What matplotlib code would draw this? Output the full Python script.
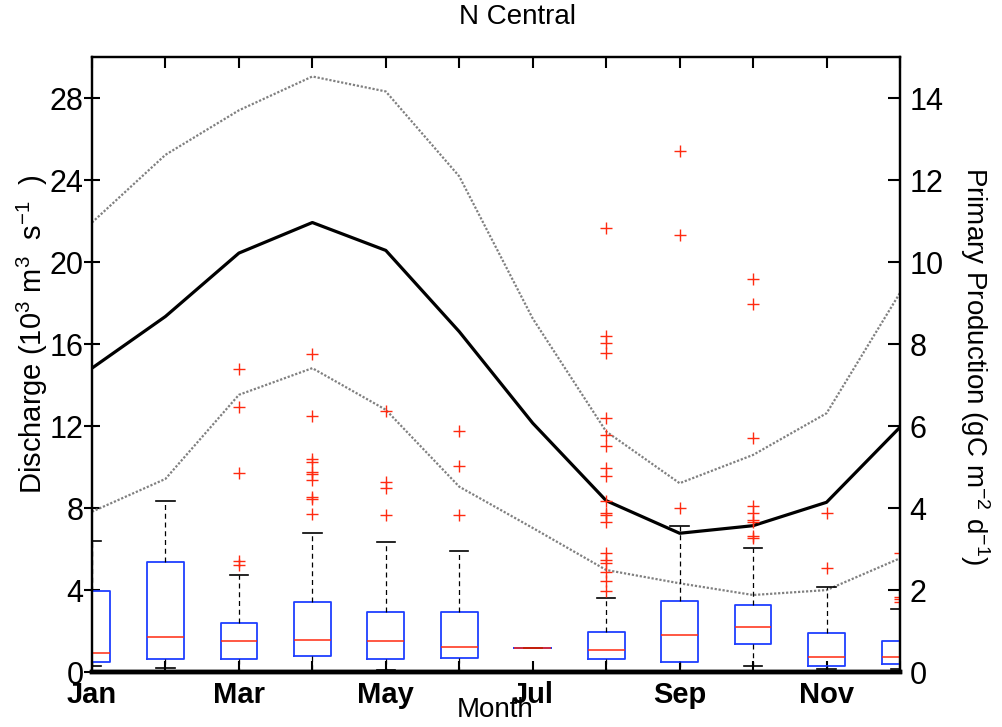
import matplotlib
matplotlib.use("Agg")
import matplotlib.pyplot as plt

plt.rcParams['font.family'] = ['Liberation Sans', 'DejaVu Sans']
plt.rcParams['mathtext.default'] = 'regular'

# ── monthly discharge (10^3 m^3 s^-1): mean and mean +/- 1 std ────────────────
months = list(range(1, 13))
month_labels = ['Jan', '', 'Mar', '', 'May', '', 'Jul', '', 'Sep', '', 'Nov', '']

q_mean  = [14.83, 17.35, 20.44, 21.93, 20.57, 16.61, 12.15, 8.37, 6.78, 7.15, 8.29, 11.95]
q_upper = [21.93, 25.23, 27.40, 29.05, 28.32, 24.18, 17.25, 11.74, 9.22, 10.60, 12.63, 18.50]
q_lower = [7.83, 9.43, 13.53, 14.83, 12.80, 9.05, 7.04, 4.99, 4.34, 3.77, 4.01, 5.56]

# ── primary production (gC m^-2 d^-1) box statistics per month ───────────────
pp_whislo = [0.16, 0.11, 0.02, 0.02, 0.065, 0.015, 0.585, 0.03, 0.02, 0.155, 0.08, 0.08]
pp_q1     = [0.245, 0.315, 0.33, 0.40, 0.315, 0.355, 0.585, 0.315, 0.26, 0.685, 0.155, 0.20]
pp_med    = [0.465, 0.855, 0.755, 0.79, 0.77, 0.61, 0.585, 0.545, 0.90, 1.10, 0.365, 0.38]
pp_q3     = [1.99, 2.685, 1.195, 1.705, 1.465, 1.48, 0.585, 0.975, 1.745, 1.65, 0.95, 0.765]
pp_whishi = [3.2, 4.185, 2.38, 3.39, 3.17, 2.95, 0.585, 1.82, 3.575, 3.04, 2.075, 1.55]
pp_fliers = [
    [],
    [],
    [2.615, 2.72, 4.87, 6.48, 7.4],
    [3.855, 4.225, 4.285, 4.69, 4.83, 4.895, 5.135, 5.195, 6.25, 7.75],
    [3.835, 4.485, 4.65, 6.375],
    [3.845, 5.025, 5.895],
    [],
    [1.99, 2.225, 2.455, 2.675, 2.74, 2.9, 3.675, 3.835, 3.895, 4.18, 4.79,
     4.975, 5.52, 5.79, 6.21, 7.795, 8.025, 8.2, 10.83],
    [4.0, 10.665, 12.715],
    [3.27, 3.325, 3.675, 3.715, 3.88, 4.055, 5.705, 8.98, 9.59],
    [2.55, 3.88],
    [1.705, 1.78, 1.845, 2.9],
]

FS = 20
TICK_FS = 22

fig = plt.figure(figsize=(10.02, 7.27), dpi=100)
ax = fig.add_axes([0.0918, 0.0752, 0.8064, 0.8464])

# discharge lines on the left axis
ax.plot(months, q_upper, color='#808080', lw=1.6, ls=(0, (1, 0.8)))
ax.plot(months, q_lower, color='#808080', lw=1.6, ls=(0, (1, 0.8)))
ax.plot(months, q_mean, color='black', lw=2.3)

ax.set_xlim(1, 12)
ax.set_ylim(0, 30)
ax.set_yticks(range(0, 29, 4))
ax.set_xticks(months)
ax.set_xticklabels(month_labels, fontsize=21, fontweight='bold')
ax.tick_params(axis='y', direction='inout', length=12, width=1.5, labelsize=TICK_FS, pad=0)
ax.tick_params(axis='x', direction='in', length=8, width=1.5, top=True, pad=6)

# primary production boxplots on the right axis
ax2 = ax.twinx()
stats = []
for i in range(12):
    stats.append(dict(whislo=pp_whislo[i], q1=pp_q1[i], med=pp_med[i],
                      q3=pp_q3[i], whishi=pp_whishi[i], fliers=pp_fliers[i]))
ax2.bxp(stats, positions=months, widths=0.5, manage_ticks=False,
        boxprops=dict(color='#1f3fff', lw=1.3),
        medianprops=dict(color='#ff2a10', lw=1.1),
        whiskerprops=dict(color='black', lw=0.9, ls=(0, (4, 3))),
        capprops=dict(color='black', lw=1.2),
        flierprops=dict(marker='+', markeredgecolor='#ff2a10',
                        markersize=8, markeredgewidth=1.0))
ax2.set_ylim(0, 15)
ax2.set_yticks(range(0, 15, 2))
ax2.tick_params(axis='y', direction='in', length=9, width=1.5, labelsize=TICK_FS, pad=7)
ax2.set_xlim(1, 12)

for a in (ax, ax2):
    for side in ('left', 'right', 'top'):
        a.spines[side].set_linewidth(1.6)
    a.spines['bottom'].set_linewidth(3.2)

fig.text(0.516, 0.977, 'N Central', ha='center', va='center', fontsize=FS)
fig.text(0.494, 0.024, 'Month', ha='center', va='center', fontsize=FS)
fig.text(0.032, 0.541, r'Discharge (10$^3$ m$^3$  s$^{-1}$  )', ha='center', va='center',
         rotation=90, fontsize=21)
fig.text(0.973, 0.497, r'Primary Production (gC m$^{-2}$ d$^{-1}$)', ha='center',
         va='center', rotation=-90, fontsize=FS)

fig.savefig('out.png', dpi=100)
